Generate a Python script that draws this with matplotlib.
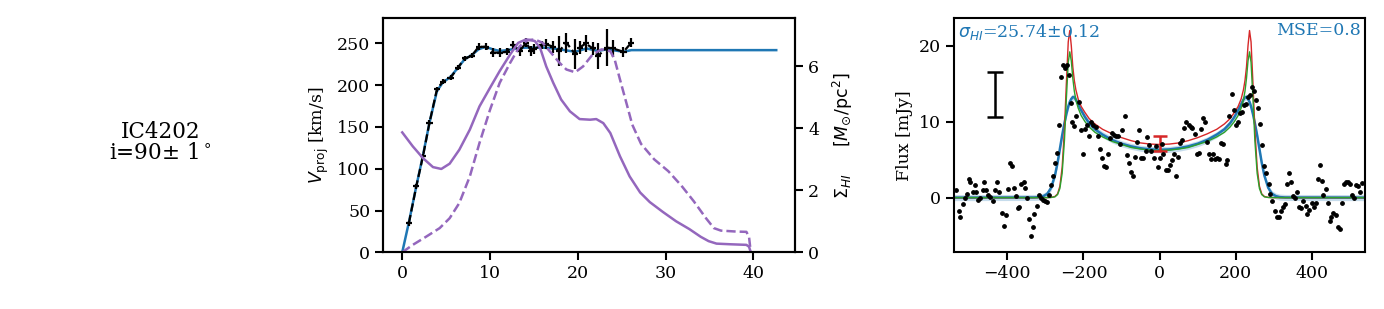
import matplotlib
matplotlib.use("Agg")
import matplotlib.pyplot as plt
import numpy as np

plt.rcParams['font.family'] = 'serif'
plt.rcParams['font.size'] = 12.5

# ---- rotation curve panel ----
r_obs = [0.76, 1.6, 2.36, 3.1, 3.95, 4.6, 5.5, 6.35, 7.1, 7.9, 8.7, 9.5, 10.3, 11.1,
         11.9, 12.6, 13.4, 14.1, 14.7, 15.0, 15.9, 16.4, 17.2, 17.9, 18.7, 19.7,
         20.2, 20.9, 21.7, 22.3, 23.3, 24.0, 25.2, 26.1]
v_obs = [35, 79, 115, 155, 195, 204, 209, 221, 232, 235, 246, 246, 239, 239,
         240, 248, 241, 251, 241, 243, 248, 249, 246, 241, 251, 237,
         245, 250, 244, 235, 245, 244, 240, 251]
v_err = [3, 3, 3, 3, 3, 3, 3, 3, 3, 3, 4, 4, 5, 5,
         4, 5, 6, 5, 6, 6, 5, 6, 7, 18, 12, 18,
         8, 10, 8, 15, 22, 10, 6, 5]

r_mod = [0, 0.76, 1.6, 2.36, 3.1, 3.95, 4.6, 5.5, 6.35, 7.1, 7.9, 8.7, 9.5, 10.3,
         11.1, 12.0, 13.0, 14.0, 15.0, 16.0, 17.2, 18.5, 19.7, 21.0, 22.3, 23.3,
         24.0, 25.2, 26.1, 42.6]
v_mod = [0, 36, 79, 116, 155, 193, 203, 210, 221, 231, 236, 243, 246, 243,
         241, 242, 244, 245, 245, 245, 244, 242, 240, 244, 241, 243,
         242, 240, 242, 242]

r_sig = [0, 1.2, 2.36, 3.5, 4.45, 5.4, 6.5, 7.7, 8.8, 10.0, 11.1, 12.3, 13.2, 14.1,
         15.1, 15.7, 16.4, 17.2, 18.1, 19.1, 20.2, 21.4, 22.1, 22.9, 23.7, 24.8,
         25.9, 27.1, 28.2, 29.7, 31.2, 32.7, 34.0, 34.9, 35.8, 37.3, 39.2, 39.5, 39.7]
sig_face = [3.87, 3.42, 3.04, 2.75, 2.69, 2.86, 3.31, 3.96, 4.71, 5.31, 5.85, 6.39, 6.76, 6.87,
            6.82, 6.6, 6.0, 5.47, 4.93, 4.55, 4.30, 4.28, 4.30, 4.17, 3.85, 3.10,
            2.45, 1.93, 1.62, 1.30, 1.00, 0.75, 0.50, 0.36, 0.28, 0.26, 0.24, 0.18, 0.0]

r_sig2 = [0, 1.2, 2.7, 4.26, 5.4, 6.5, 7.7, 8.8, 10.0, 11.1, 12.3, 13.4, 14.3, 15.1,
          16.0, 16.8, 17.9, 18.7, 19.7, 20.6, 21.7, 22.7, 23.7, 24.2, 24.8, 25.6,
          26.2, 27.2, 28.7, 30.3, 31.8, 33.2, 34.6, 35.5, 36.3, 38.0, 39.2, 39.5, 39.7]
sig_deproj = [0, 0.24, 0.5, 0.78, 1.1, 1.59, 2.45, 3.53, 4.6, 5.47, 6.12, 6.66, 6.85, 6.87,
              6.76, 6.49, 6.12, 5.9, 5.81, 6.0, 6.39, 6.55, 6.49, 6.22, 5.58, 4.75,
              4.12, 3.5, 3.0, 2.62, 2.15, 1.65, 1.10, 0.78, 0.70, 0.67, 0.66, 0.5, 0.0]

# ---- HI profile panel ----
chan_v = [-536, -528, -523, -517, -511, -506, -501, -497, -491, -486, -481, -476, -471, -465,
          -460, -456, -450, -445, -438, -432, -427, -421, -415, -410, -403, -399, -394, -389,
          -383, -377, -372, -368, -363, -357, -353, -349, -343, -339, -333, -329, -323, -318,
          -312, -306, -302, -296, -290, -285, -281, -275, -270, -264, -259, -254, -249, -244,
          -239, -234, -229, -225, -219, -213, -207, -201, -196, -190, -185, -180, -174, -168,
          -162, -157, -152, -146, -141, -136, -131, -125, -120, -114, -109, -104, -98, -92,
          -87, -81, -76, -71, -65, -59, -54, -49, -44, -37, -32, -27, -22, -16, -10, -5,
          0, 5, 10, 16, 21, 26, 32, 37, 42, 48, 53, 59, 64, 70, 76, 81, 86, 92, 97, 102,
          108, 113, 119, 124, 129, 135, 140, 146, 151, 156, 162, 167, 173, 178, 183, 189,
          195, 200, 205, 211, 216, 221, 227, 232, 237, 242, 247, 253, 258, 263, 269, 274,
          280, 286, 291, 296, 302, 307, 313, 318, 323, 329, 335, 340, 345, 350, 356, 361,
          366, 371, 376, 383, 388, 393, 399, 404, 410, 415, 420, 425, 430, 436, 441, 446,
          451, 456, 462, 468, 473, 478, 484, 489, 494, 499, 505, 510, 516, 521, 526, 532]
chan_flux = [0.96, -1.8, -2.5, -0.9, -0.1, 0.5, 2.4, 2.1, 0.75, 1.6, 0.75, -0.3, -0.1, 1.0,
             2.1, 1.0, 0.3, 0.1, -0.5, 1.0, 2.1, 0.75, -2.0, -3.7, -2.3, 1.2, 4.6, 4.1,
             1.3, 0.2, -1.4, -1.2, 1.8, 2.1, 1.3, -0.05, -2.8, -5.1, -3.9, -2.2, -1.1, 0.3,
             -0.05, -0.3, -0.5, -0.6, 0.4, 1.7, 2.8, 4.6, 5.9, 9.5, 15.9, 17.5, 17.1, 17.5,
             16.1, 12.5, 10.0, 9.4, 10.7, 12.6, 8.9, 5.7, 9.1, 9.5, 8.1, 10.0, 9.6, 9.3,
             8.1, 6.4, 5.2, 4.2, 4.0, 5.8, 7.9, 8.5, 8.2, 8.1, 8.1, 7.0, 8.9, 10.7,
             5.6, 4.6, 3.4, 2.9, 5.4, 7.3, 8.9, 5.2, 5.2, 6.1, 8.0, 6.9, 6.1, 5.2, 6.8, 4.0,
             5.2, 7.1, 5.8, 3.7, 3.7, 4.3, 4.9, 5.7, 2.9, 5.4, 7.2, 7.6, 9.2, 10.0, 9.5, 9.3,
             9.2, 8.4, 5.8, 5.9, 9.1, 10.5, 10.0, 7.3, 5.8, 5.1, 5.8, 5.1, 5.2, 5.1, 7.2, 7.1,
             4.4, 4.9, 10.7, 13.7, 11.6, 9.5, 10.0, 11.1, 11.3, 12.2, 12.3, 13.3, 13.5, 14.6,
             14.0, 12.9, 11.8, 9.7, 6.9, 4.1, 3.2, 1.8, 0.5, -0.4, -1.7, -2.5, -2.5, -1.7,
             -1.3, -0.9, 1.8, 3.2, 2.0, 0.2, 0.0, 0.75, -1.2, -1.4, -0.4, -1.1, -2.1, -1.6,
             -0.7, -1.2, -0.7, 2.5, 4.3, 2.2, 0.3, 1.1, -0.7, -3.1, -2.6, -2.0, -2.3, -3.9,
             -4.1, -0.7, 1.8, 2.1, 2.0, 1.8, 0.3, 0.0, 1.6, 1.5, 0.75, 1.9]

mod_v = [-540, -330, -315, -305, -295, -285, -275, -268, -262, -256, -250, -245, -240, -236,
         -232, -228, -224, -220, -214, -206, -196, -185, -170, -150, -125, -100, -75, -50,
         -25, 0, 25, 50, 75, 100, 125, 150, 170, 185, 196, 206, 214, 220, 224, 228, 232,
         236, 240, 245, 250, 256, 262, 268, 275, 285, 295, 305, 315, 330, 540]
fit_flux = [0, 0.02, 0.07, 0.2, 0.5, 1.3, 2.9, 4.6, 6.4, 8.2, 9.8, 11.0, 12.0, 12.6,
            13.0, 13.25, 13.2, 12.9, 12.3, 11.5, 10.6, 9.8, 9.0, 8.3, 7.6, 7.1, 6.75, 6.5,
            6.35, 6.3, 6.35, 6.5, 6.75, 7.1, 7.6, 8.3, 9.0, 9.8, 10.6, 11.5, 12.3, 12.9,
            13.2, 13.25, 13.0, 12.6, 12.0, 11.0, 9.8, 8.2, 6.4, 4.6, 2.9, 1.3, 0.5, 0.2,
            0.07, 0.02, 0]
red_flux = [0, 0, 0, 0, 0, 0.03, 0.15, 0.5, 1.5, 4.0, 9.0, 15.0, 20.5, 22.0,
            20.0, 17.2, 15.4, 14.2, 13.0, 12.0, 11.2, 10.4, 9.7, 9.0, 8.4, 7.9, 7.5, 7.2,
            7.05, 7.0, 7.05, 7.2, 7.5, 7.9, 8.4, 9.0, 9.7, 10.4, 11.2, 12.0, 13.0, 14.2,
            15.4, 17.2, 20.0, 22.0, 20.5, 15.0, 9.0, 4.0, 1.5, 0.5, 0.15, 0.03, 0, 0,
            0, 0, 0]
green_flux = [0, 0, 0, 0, 0, 0.02, 0.1, 0.4, 1.2, 3.2, 7.5, 13.0, 17.8, 19.2,
              18.0, 15.7, 14.0, 12.9, 11.8, 10.8, 10.0, 9.3, 8.6, 8.0, 7.4, 7.0, 6.6, 6.4,
              6.25, 6.2, 6.25, 6.4, 6.6, 7.0, 7.4, 8.0, 8.6, 9.3, 10.0, 10.8, 11.8, 12.9,
              14.0, 15.7, 18.0, 19.2, 17.8, 13.0, 7.5, 3.2, 1.2, 0.4, 0.1, 0.02, 0, 0,
              0, 0, 0]

fig = plt.figure(figsize=(13.84, 3.09), dpi=100)

fig.text(0.116, 0.54, "IC4202\ni=90$\\pm$ 1$^\\circ$", ha='center', va='center',
         fontsize=15.5, linespacing=0.95)

# rotation curve
ax = fig.add_axes([0.2770, 0.1835, 0.2975, 0.757])
ax.plot(r_mod, v_mod, color='tab:blue', lw=1.8, zorder=1)
ax.errorbar(r_obs, v_obs, yerr=v_err, xerr=0.35, color='k', ls='--', lw=1.6,
            elinewidth=1.6, zorder=2)
ax.set_xlim(-2.15, 44.75)
ax.set_ylim(0, 280)
ax.set_xticks([0, 10, 20, 30, 40])
ax.set_yticks([0, 50, 100, 150, 200, 250])
ax.set_ylabel(r'$V_{\rm proj}$ [km/s]')

ax2 = ax.twinx()
ax2.plot(r_sig, sig_face, color='tab:purple', lw=1.8)
ax2.plot(r_sig2, sig_deproj, color='tab:purple', lw=1.8, ls='--')
ax2.set_ylim(0, 7.55)
ax2.set_yticks([0, 2, 4, 6])
ax2.set_ylabel(r'$\Sigma_{HI}$     $[M_{\odot}/\mathrm{pc}^2]$', labelpad=8)

# HI profile
axf = fig.add_axes([0.6893, 0.1835, 0.2972, 0.757])
axf.scatter(chan_v, chan_flux, s=6, color='k', zorder=3)
axf.fill_between(mod_v, np.array(fit_flux) - 0.4, np.array(fit_flux) + 0.4,
                 color='tab:blue', alpha=0.25, lw=0, zorder=1)
axf.plot(mod_v, fit_flux, color='tab:blue', lw=1.8, zorder=2)
axf.plot(mod_v, red_flux, color='tab:red', lw=1.0, zorder=2)
axf.plot(mod_v, green_flux, color='tab:green', lw=1.0, zorder=2)
axf.errorbar([-432], [13.6], yerr=[2.95], color='k', capsize=6, lw=1.8, capthick=1.8)
axf.errorbar([0], [7.1], yerr=[1.0], color='tab:red', capsize=5, lw=1.8, capthick=1.8)
axf.set_xlim(-540, 540)
axf.set_ylim(-7.2, 23.6)
axf.set_xticks([-400, -200, 0, 200, 400])
axf.set_yticks([0, 10, 20])
axf.set_xticklabels(['\u2212400', '\u2212200', '0', '200', '400'])
axf.set_ylabel('Flux [mJy]')
axf.text(0.01, 0.985, r'$\sigma_{HI}$=25.74$\pm$0.12', transform=axf.transAxes,
         color='tab:blue', ha='left', va='top', fontsize=12.5)
axf.text(0.99, 0.985, 'MSE=0.8', transform=axf.transAxes,
         color='tab:blue', ha='right', va='top', fontsize=12.5)

for a in (ax, ax2, axf):
    for s in a.spines.values():
        s.set_linewidth(1.5)
    a.tick_params(width=1.5, length=6)

fig.savefig('out.png', dpi=100)
